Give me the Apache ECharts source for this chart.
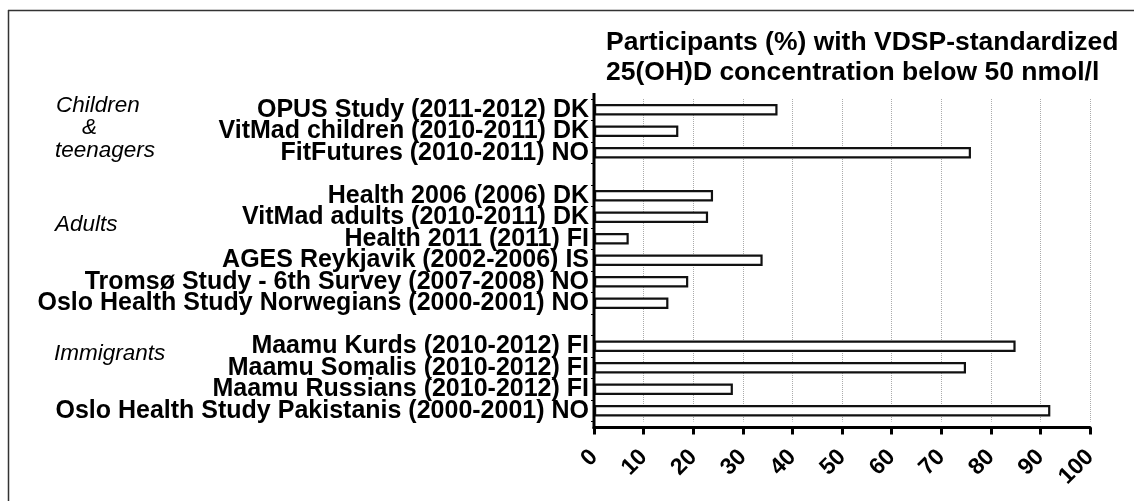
<!DOCTYPE html>
<html><head><meta charset="utf-8">
<script src="https://cdn.jsdelivr.net/npm/echarts@6/dist/echarts.min.js"></script>
<style>html,body{margin:0;padding:0;background:#fff}#c{width:1134px;height:501px}</style>
</head><body><div id="c"></div>
<script>
const categories = [
  'OPUS Study (2011-2012) DK',
  'VitMad children (2010-2011) DK',
  'FitFutures (2010-2011) NO',
  ' ',
  'Health 2006 (2006) DK',
  'VitMad adults (2010-2011) DK',
  'Health 2011 (2011) FI',
  'AGES Reykjavik (2002-2006) IS',
  'Tromsø Study - 6th Survey (2007-2008) NO',
  'Oslo Health Study Norwegians (2000-2001) NO',
  '  ',
  'Maamu Kurds (2010-2012) FI',
  'Maamu Somalis (2010-2012) FI',
  'Maamu Russians (2010-2012) FI',
  'Oslo Health Study Pakistanis (2000-2001) NO'
];
const values = [37, 17, 76, null, 24, 23, 7, 34, 19, 15, null, 85, 75, 28, 92];
const xTickLabels = ['0','10','20','30','40','50','60','70','80','90','100'];
const titleLines = ['Participants (%) with VDSP-standardized', '25(OH)D concentration below 50 nmol/l'];
const groupLabels = ['Children', '&', 'teenagers', 'Adults', 'Immigrants'];

const FONT = '"Liberation Sans", Arial, Helvetica, sans-serif';
const chart = echarts.init(document.getElementById('c'), null, {renderer: 'canvas'});
const gridTop = 99, gridLeft = 594, gridRight = 44, gridHeight = 322.5, axisOffset = 6;

chart.setOption({
  animation: false,
  backgroundColor: '#fff',
  title: {
    text: titleLines.join('\n'),
    left: 601, top: 23,
    textStyle: {fontFamily: FONT, fontSize: 26.5, fontWeight: 'bold', color: '#000', lineHeight: 29.5}
  },
  grid: {left: gridLeft, right: gridRight, top: gridTop, height: gridHeight},
  xAxis: {
    type: 'value', min: 0, max: 100, interval: 10, offset: axisOffset,
    axisLine: {show: true, lineStyle: {color: '#000', width: 3}},
    axisTick: {show: true, length: 7, lineStyle: {color: '#000', width: 3}},
    axisLabel: {
      rotate: 45, margin: 26, fontFamily: FONT, fontSize: 23, fontWeight: 'bold', color: '#000',
      formatter: function (v) { return xTickLabels[Math.round(v / 10)]; }
    },
    splitLine: {show: true, lineStyle: {type: 'dotted', color: '#ababab', width: 1}}
  },
  yAxis: {
    type: 'category', inverse: true, data: categories,
    axisLine: {show: false},
    axisTick: {show: true, length: 3, interval: 0, lineStyle: {color: '#000', width: 1}},
    axisLabel: {interval: 0, margin: 5, fontFamily: FONT, fontSize: 25, fontWeight: 'bold', color: '#000'},
    splitLine: {show: false}
  },
  series: [{
    type: 'bar', data: values, barWidth: 11.5, silent: true,
    itemStyle: {color: '#fff', borderColor: '#111', borderWidth: 2.2}
  }]
});

const x0 = chart.convertToPixel({xAxisIndex: 0}, 0);
const axisY = gridTop + gridHeight + axisOffset;
const grpStyle = {fontFamily: FONT, fontSize: 22.5, fontStyle: 'italic', fill: '#000', textVerticalAlign: 'middle'};
const grpPos = [[56, 106], [82, 128], [55, 151], [55, 225], [54, 354]];
chart.setOption({
  graphic: [
    {type: 'line', shape: {x1: x0, y1: gridTop - 6, x2: x0, y2: axisY + 1.5}, style: {stroke: '#000', lineWidth: 3}, z: 100},
    {type: 'line', shape: {x1: 8, y1: 10.5, x2: 1134, y2: 10.5}, style: {stroke: '#333', lineWidth: 1.5}},
    {type: 'line', shape: {x1: 8.5, y1: 10, x2: 8.5, y2: 501}, style: {stroke: '#333', lineWidth: 1.5}}
  ].concat(groupLabels.map(function (t, i) {
    return {type: 'text', x: grpPos[i][0], y: grpPos[i][1], style: Object.assign({text: t}, grpStyle)};
  }))
});
</script></body></html>
